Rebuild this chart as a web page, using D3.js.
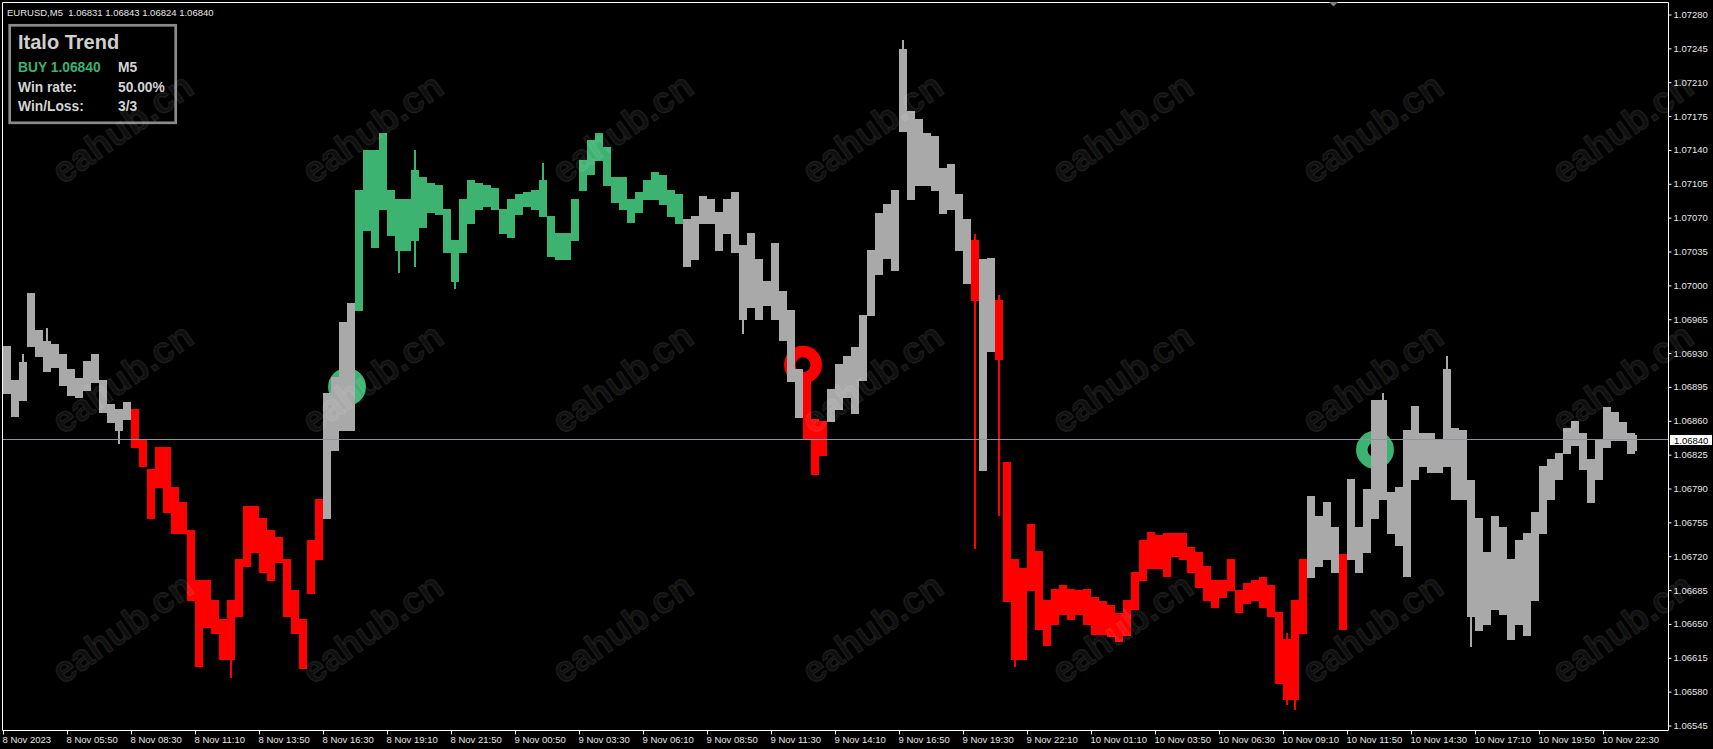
<!DOCTYPE html>
<html><head><meta charset="utf-8">
<script src="https://cdn.jsdelivr.net/npm/d3@7"></script>
<style>
html,body{margin:0;padding:0;background:#000;overflow:hidden}
svg{display:block}
text{font-family:"Liberation Sans",Arial,sans-serif}
</style></head><body>
<svg id="c" width="1713" height="749"></svg>
<script>
// ---------------- DATA ----------------
const symbolTitle = "EURUSD,M5  1.06831 1.06843 1.06824 1.06840";
const timeLabels = ["8 Nov 2023","8 Nov 05:50","8 Nov 08:30","8 Nov 11:10","8 Nov 13:50","8 Nov 16:30","8 Nov 19:10","8 Nov 21:50",
  "9 Nov 00:50","9 Nov 03:30","9 Nov 06:10","9 Nov 08:50","9 Nov 11:30","9 Nov 14:10","9 Nov 16:50","9 Nov 19:30","9 Nov 22:10",
  "10 Nov 01:10","10 Nov 03:50","10 Nov 06:30","10 Nov 09:10","10 Nov 11:50","10 Nov 14:30","10 Nov 17:10","10 Nov 19:50","10 Nov 22:30"];
const priceTicks = [1.07280,1.07245,1.07210,1.07175,1.07140,1.07105,1.07070,1.07035,1.07000,1.06965,1.06930,
  1.06895,1.06860,1.06825,1.06790,1.06755,1.06720,1.06685,1.06650,1.06615,1.06580,1.06545];
const currentPrice = 1.06840;
// each entry = 4 consecutive M5 bars (core range of the bars)
const groupHigh = [
1.06937,1.06902,1.06921,1.06992,1.06954,1.06942,1.06939,1.06929,1.06914,1.06904,
1.06922,1.06929,1.06902,1.06877,1.06872,1.06879,1.06872,1.06840,1.06810,1.06833,
1.06833,1.06792,1.06776,1.06747,1.06695,1.06695,1.06675,1.06655,1.06675,1.06717,
1.06772,1.06772,1.06759,1.06747,1.06740,1.06717,1.06685,1.06655,1.06737,1.06779,
1.06889,1.06905,1.06962,1.06982,1.07099,1.07140,1.07140,1.07158,1.07099,1.07089,
1.07089,1.07119,1.07112,1.07106,1.07104,1.07079,1.07047,1.07089,1.07109,1.07106,
1.07104,1.07101,1.07079,1.07089,1.07094,1.07096,1.07099,1.07109,1.07072,1.07054,
1.07054,1.07089,1.07130,1.07150,1.07157,1.07143,1.07112,1.07112,1.07089,1.07096,
1.07109,1.07117,1.07114,1.07099,1.07094,1.07069,1.07072,1.07092,1.07089,1.07076,
1.07089,1.07096,1.07042,1.07054,1.07027,1.07005,1.07044,1.06994,1.06975,1.06914,
1.06901,1.06862,1.06860,1.06893,1.06919,1.06927,1.06936,1.06969,1.07037,1.07075,
1.07084,1.07099,1.07244,1.07180,1.07172,1.07158,1.07154,1.07121,1.07125,1.07094,
1.07069,1.07047,1.07027,1.07028,1.06985,1.06817,1.06717,1.06708,1.06753,1.06725,
1.06675,1.06686,1.06690,1.06686,1.06685,1.06686,1.06678,1.06674,1.06670,1.06661,
1.06675,1.06704,1.06737,1.06745,1.06742,1.06744,1.06744,1.06744,1.06730,1.06724,
1.06710,1.06695,1.06695,1.06717,1.06685,1.06692,1.06695,1.06698,1.06690,1.06662,
1.06634,1.06675,1.06717,1.06782,1.06762,1.06776,1.06750,1.06722,1.06800,1.06750,
1.06789,1.06882,1.06882,1.06786,1.06792,1.06850,1.06875,1.06847,1.06847,1.06840,
1.06914,1.06853,1.06850,1.06799,1.06759,1.06724,1.06762,1.06750,1.06717,1.06737,
1.06744,1.06766,1.06813,1.06820,1.06827,1.06853,1.06860,1.06847,1.06820,1.06840,
1.06874,1.06869,1.06859,1.06847,1.06845];
const groupLow = [
1.06889,1.06865,1.06882,1.06937,1.06927,1.06911,1.06916,1.06897,1.06887,1.06885,
1.06892,1.06900,1.06869,1.06859,1.06850,1.06862,1.06833,1.06813,1.06759,1.06792,
1.06766,1.06744,1.06744,1.06675,1.06607,1.06647,1.06641,1.06614,1.06614,1.06658,
1.06710,1.06724,1.06704,1.06695,1.06714,1.06658,1.06641,1.06604,1.06682,1.06717,
1.06759,1.06830,1.06850,1.06850,1.06975,1.07057,1.07040,1.07079,1.07052,1.07037,
1.07037,1.07047,1.07060,1.07076,1.07074,1.07034,1.07005,1.07034,1.07064,1.07079,
1.07082,1.07079,1.07054,1.07050,1.07074,1.07082,1.07079,1.07072,1.07030,1.07027,
1.07027,1.07047,1.07099,1.07115,1.07130,1.07104,1.07086,1.07079,1.07066,1.07076,
1.07089,1.07089,1.07084,1.07072,1.07064,1.07020,1.07027,1.07064,1.07064,1.07037,
1.07054,1.07034,1.06965,1.06978,1.06965,1.06980,1.06965,1.06944,1.06901,1.06864,
1.06842,1.06805,1.06825,1.06860,1.06872,1.06885,1.06868,1.06902,1.06969,1.07012,
1.07028,1.07016,1.07160,1.07089,1.07104,1.07104,1.07099,1.07075,1.07079,1.07037,
1.07002,1.06985,1.06809,1.06932,1.06924,1.06674,1.06614,1.06614,1.06685,1.06645,
1.06628,1.06650,1.06660,1.06655,1.06660,1.06650,1.06640,1.06640,1.06638,1.06632,
1.06639,1.06665,1.06695,1.06708,1.06708,1.06700,1.06720,1.06717,1.06704,1.06688,
1.06675,1.06668,1.06678,1.06685,1.06662,1.06672,1.06675,1.06668,1.06658,1.06589,
1.06572,1.06572,1.06641,1.06698,1.06710,1.06717,1.06704,1.06645,1.06717,1.06704,
1.06724,1.06759,1.06779,1.06744,1.06732,1.06700,1.06800,1.06813,1.06807,1.06807,
1.06813,1.06779,1.06779,1.06658,1.06644,1.06650,1.06665,1.06660,1.06634,1.06650,
1.06639,1.06675,1.06744,1.06779,1.06800,1.06827,1.06835,1.06810,1.06776,1.06800,
1.06833,1.06840,1.06840,1.06827,1.06830];
// spikes (wicks) beyond the core range: group index, high, low
const wickGroup = [2,5,14,28,49,51,56,67,92,112,121,124,126,160,161,172,180,183];
const wickHigh  = [1.06929,1.06956,1.06872,1.06675,1.07089,1.07140,1.07047,1.07127,1.07042,1.07254,1.07053,1.06990,1.06717,1.06641,1.06675,1.06889,1.06927,1.06799];
const wickLow   = [1.06882,1.06911,1.06837,1.06595,1.07014,1.07020,1.06997,1.07072,1.06951,1.07160,1.06729,1.06763,1.06607,1.06567,1.06562,1.06779,1.06813,1.06627];
// indicator trend colouring, runs of groups
const trendRuns = [[0,15,"flat"],[16,39,"down"],[40,43,"flat"],[44,84,"up"],[85,99,"flat"],[100,102,"down"],
  [103,120,"flat"],[121,121,"down"],[122,123,"flat"],[124,162,"down"],[163,166,"flat"],[167,167,"down"],[168,204,"flat"]];
// signal rings: bar index, price, type
const signalBar   = [172, 400, 686];
const signalPrice = [1.06895, 1.06918, 1.06830];
const signalType  = ["buy","sell","buy"];
const infoTitle = "Italo Trend";
const infoRows = [["BUY 1.06840","M5"],["Win rate:","50.00%"],["Win/Loss:","3/3"]];
const watermark = "eahub.cn";

// ---------------- DRAW ----------------
const W=1713,H=749;
const svg=d3.select("#c");
svg.append("rect").attr("width",W).attr("height",H).attr("fill","#000");
const N_BARS=817, PER=4;
const x=d3.scaleLinear().domain([0,800]).range([3,1603]);
const y=d3.scaleLinear().domain([1.06545,1.07280]).range([725.5,14.5]);
const col={flat:"#a9a9a9",down:"#ff0000",up:"#3cb371"};
const trend=[];
trendRuns.forEach(([a,b,t])=>{for(let i=a;i<=b;i++)trend[i]=t;});

// rings (behind bars)
const gR=svg.append("g");
signalBar.forEach((b,i)=>{
  gR.append("circle").attr("cx",x(b)).attr("cy",y(signalPrice[i])).attr("r",13.2)
    .attr("fill","none").attr("stroke",signalType[i]==="buy"?"#3cb371":"#ff0000").attr("stroke-width",11.5);
});

// bars
const gB=svg.append("g").attr("shape-rendering","crispEdges");
groupHigh.forEach((h,g)=>{
  const b0=g*PER, nb=Math.min(PER,N_BARS-b0);
  const x0=x(b0), w=nb*2;
  const y0=Math.round(y(h)), y1=Math.round(y(groupLow[g]));
  gB.append("rect").attr("x",x0).attr("y",y0).attr("width",w).attr("height",Math.max(1,y1-y0+1)).attr("fill",col[trend[g]]);
});
wickGroup.forEach((g,i)=>{
  const b0=g*PER;
  const y0=Math.round(y(wickHigh[i])), y1=Math.round(y(wickLow[i]));
  gB.append("rect").attr("x",x(b0+1.5)).attr("y",y0).attr("width",2).attr("height",y1-y0+1).attr("fill",col[trend[g]]);
});

// current price line
const py=Math.round(y(currentPrice))-0.5;
svg.append("line").attr("x1",3).attr("x2",1668).attr("y1",py).attr("y2",py).attr("stroke","#8f959e").attr("stroke-width",1);

// frame
svg.append("path").attr("d","M2.5,730.5V2.5H1668.5V730.5H2.5").attr("fill","none").attr("stroke","#fff").attr("stroke-width",1);
// shift marker
svg.append("path").attr("d","M1329,2L1338,2L1333.5,6.5Z").attr("fill","#808080");

// y axis
const ya=svg.append("g").attr("transform","translate(1668.5,0)")
  .call(d3.axisRight(y).tickValues(priceTicks).tickFormat(d3.format(".5f")).tickSize(3).tickPadding(2));
ya.select(".domain").remove();
ya.selectAll("line").attr("stroke","#fff");
ya.selectAll("text").attr("fill","#e6e6e6").style("font-size","9.5px").style("font-family","'Liberation Sans',Arial,sans-serif");

// price tag
svg.append("rect").attr("x",1670).attr("y",py-4.5).attr("width",42).attr("height",10).attr("fill","#fff");
svg.append("text").attr("x",1674).attr("y",py+4).text(d3.format(".5f")(currentPrice)).attr("fill","#000").style("font-size","9.5px");

// x axis
const xa=svg.append("g").attr("transform","translate(0,730.5)")
  .call(d3.axisBottom(x).tickValues(d3.range(0,801,32)).tickFormat((d,i)=>timeLabels[i]).tickSize(4).tickPadding(2));
xa.select(".domain").remove();
xa.selectAll("line").attr("stroke","#fff");
xa.selectAll("text").attr("fill","#e6e6e6").attr("text-anchor","start").attr("x",-1)
  .style("font-size","9.5px").style("font-family","'Liberation Sans',Arial,sans-serif");

// header
svg.append("text").attr("x",7).attr("y",15.5).attr("fill","#e6e6e6").style("font-size","9.5px").style("white-space","pre").text(symbolTitle);

// info box
svg.append("rect").attr("x",9.7).attr("y",25.3).attr("width",166).attr("height",97.5).attr("fill","#000").attr("stroke","#8a8a8a").attr("stroke-width",2.7);
svg.append("text").attr("x",18).attr("y",48.5).attr("fill","#cfcfcf").style("font-size","20px").style("font-weight","bold").text(infoTitle);
const rowY=[72.3,92,111];
infoRows.forEach((r,i)=>{
  svg.append("text").attr("x",18).attr("y",rowY[i]).attr("fill",i===0?"#3cb371":"#d4d4d4").style("font-size","13.8px").style("font-weight","bold").text(r[0]);
  svg.append("text").attr("x",118).attr("y",rowY[i]).attr("fill","#d4d4d4").style("font-size","13.8px").style("font-weight","bold").text(r[1]);
});

// watermark grid (on top)
const gW=svg.append("g");
for(let i=0;i<7;i++)for(let j=0;j<3;j++){
  gW.append("text").attr("transform",`translate(${122+250*i},${128+250*j}) rotate(-35)`)
    .attr("text-anchor","middle").attr("dy","0.35em")
    .style("font-size","37px").style("font-weight","bold")
    .attr("fill","rgba(255,255,255,0.06)").attr("stroke","rgba(255,255,255,0.09)").attr("stroke-width",1.5)
    .text(watermark);
}
</script>
</body></html>
